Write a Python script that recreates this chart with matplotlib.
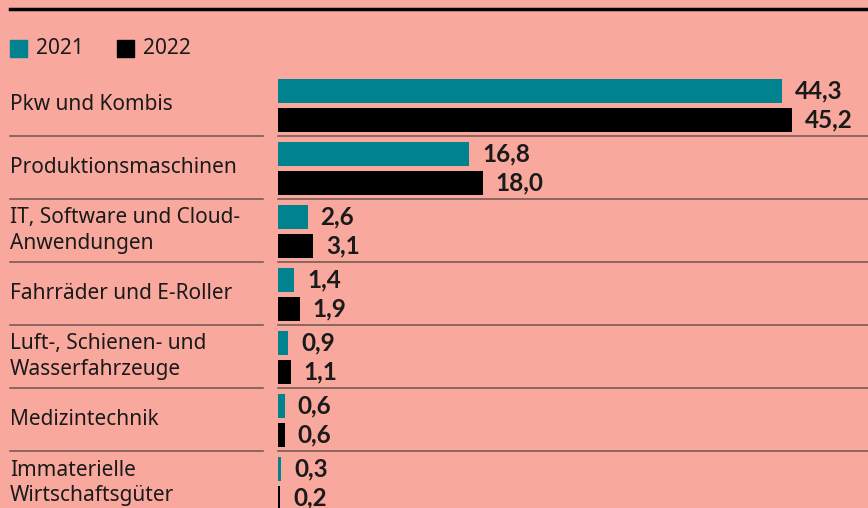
import matplotlib.pyplot as plt
from matplotlib.lines import Line2D
from matplotlib.patches import Rectangle
from matplotlib.transforms import blended_transform_factory

categories = ["Pkw und Kombis", "Produktionsmaschinen", "IT, Software und Cloud-\nAnwendungen",
              "Fahrräder und E-Roller", "Luft-, Schienen- und\nWasserfahrzeuge", "Medizintechnik",
              "Immaterielle\nWirtschaftsgüter"]
v2021 = [44.3, 16.8, 2.6, 1.4, 0.9, 0.6, 0.3]
v2022 = [45.2, 18.0, 3.1, 1.9, 1.1, 0.6, 0.2]
years = ["2021", "2022"]

bg = "#f9a89e"
teal = "#00838f"
dark = "#1a1a1a"
sep = "#6e5450"
font = "Noto Sans"

W, H = 868, 508
fig = plt.figure(figsize=(W / 100, H / 100), dpi=100, facecolor=bg)

x0 = 278
scale = 11.37
ax = fig.add_axes([x0 / W, 0, (W - x0) / W, 1])
ax.set_facecolor(bg)
ax.set_xlim(0, (W - x0) / scale)
ax.set_ylim(H, 0)
ax.axis("off")

pitch = 63
top = 73
bh = 23.5
for i, (a, b) in enumerate(zip(v2021, v2022)):
    y1 = top + pitch * i + 18
    y2 = top + pitch * i + 47
    ax.barh(y1, a, height=bh, color=teal, clip_on=False)
    ax.barh(y2, b, height=bh, color="black", clip_on=False)
    for y, v in ((y1, a), (y2, b)):
        ax.annotate(f"{v:.1f}".replace(".", ","), (v, y), xytext=(13, 0), textcoords="offset pixels",
                    va="center", ha="left", fontsize=17.5, fontweight="bold", color=dark, family="Lato")
    ty = blended_transform_factory(fig.transFigure, ax.transData)
    fig.text(10 / W, top + pitch * i + 31.5, categories[i], transform=ty, va="center", ha="left",
             fontsize=15, color=dark, family=font, linespacing=1.25)
    if i < len(categories) - 1:
        yl = top + pitch * (i + 1)
        fig.add_artist(Line2D([10 / W, 263 / W], [yl, yl], transform=ty, color=sep, lw=1.1))
        fig.add_artist(Line2D([x0 / W, 1], [yl, yl], transform=ty, color=sep, lw=1.1))

# top rule
fig.add_artist(Line2D([10 / W, 1], [1 - 9 / H, 1 - 9 / H], color="black", lw=2.5))

# legend
for xs, c, lab in ((10, teal, years[0]), (117, "black", years[1])):
    fig.add_artist(Rectangle((xs / W, 1 - 57 / H), 17 / W, 17 / H, color=c, transform=fig.transFigure))
    fig.text((xs + 26) / W, 1 - 49 / H, lab, va="center", ha="left", fontsize=15, color=dark, family=font)

fig.savefig("out.png", dpi=100, facecolor=bg)
